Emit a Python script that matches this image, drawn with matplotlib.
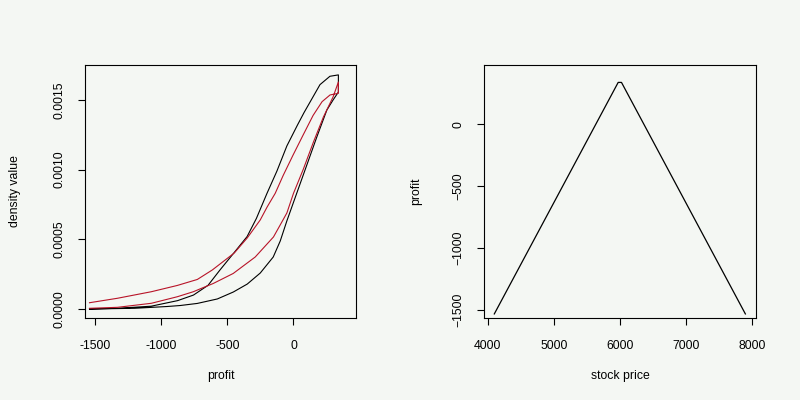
import matplotlib
matplotlib.use("Agg")
import matplotlib.pyplot as plt

plt.rcParams["font.family"] = ["Liberation Sans", "DejaVu Sans"]
plt.rcParams["font.size"] = 8.8

bg = "#f4f7f3"

# left panel: density of profit, two passes (black and red), each read as
# a rising branch (to the profit peak) then a falling branch back down
black_up_x = [-1540, -1330, -1075, -875, -755, -645, -555, -435, -350, -280,
              -200, -125, -50, 30, 80, 140, 200, 275, 339]
black_up_y = [0.0, 0.000005, 0.00002, 0.00006, 0.0001, 0.00017, 0.00028,
              0.00042, 0.00052, 0.00065, 0.00083, 0.00099, 0.00117, 0.00132,
              0.00141, 0.00151, 0.00161, 0.00167, 0.00168]
black_down_x = [339, 299, 252, 176, 101, 28, -50, -100, -153, -251, -349,
                -454, -575, -726, -855, -952, -1201, -1540]
black_down_y = [0.001557, 0.0015, 0.001428, 0.001234, 0.001034, 0.00084,
                0.000632, 0.000488, 0.000373, 0.000258, 0.000179, 0.000122,
                0.000072, 0.00004, 0.000025, 0.000018, 0.000005, 0.0]

red_up_x = [-1540, -1329, -1073, -877, -726, -613, -447, -349, -251, -199,
            -138, -78, -3, 73, 148, 216, 276, 339]
red_up_y = [0.000045, 0.000077, 0.000124, 0.000169, 0.000212, 0.00028,
            0.000402, 0.00051, 0.000639, 0.000732, 0.00083, 0.000958,
            0.001105, 0.001249, 0.001389, 0.001488, 0.001536, 0.001548]
red_down_x = [339, 299, 226, 151, 75, 0, -50, -88, -151, -289, -455, -606,
              -688, -756, -877, -1073, -1329, -1540]
red_down_y = [0.001629, 0.001522, 0.001378, 0.001199, 0.001005, 0.00083,
              0.000689, 0.000624, 0.000517, 0.000373, 0.000255, 0.000183,
              0.000151, 0.000124, 0.000088, 0.000041, 0.000012, 0.000005]

# right panel: payoff against stock price
price = [4100, 5975, 6025, 7900]
profit = [-1535, 340, 340, -1535]

fig = plt.figure(figsize=(8, 4), dpi=100, facecolor=bg)
ax1 = fig.add_axes([85 / 800, 82 / 400, 271 / 800, 253 / 400], facecolor=bg)
ax2 = fig.add_axes([484 / 800, 82 / 400, 272 / 800, 253 / 400], facecolor=bg)

ax1.plot(black_up_x + black_down_x, black_up_y + black_down_y, color="black", lw=0.8)
ax1.plot(red_up_x + red_down_x, red_up_y + red_down_y, color="#b81428", lw=0.8)
ax1.set_xlim(-1574, 472)
ax1.set_ylim(-0.0000646, 0.001751)
ax1.set_xticks([-1500, -1000, -500, 0])
ax1.set_xticklabels(["-1500", "-1000", "-500", "0"])
ax1.set_yticks([0, 0.0005, 0.001, 0.0015])
ax1.set_yticklabels(["0.0000", "0.0005", "0.0010", "0.0015"])
ax1.set_xlabel("profit")
ax1.set_ylabel("density value")

ax2.plot(price, profit, color="black", lw=0.9)
ax2.set_xlim(3944, 8061)
ax2.set_ylim(-1568, 481)
ax2.set_xticks([4000, 5000, 6000, 7000, 8000])
ax2.set_yticks([-1500, -1000, -500, 0])
ax2.set_xlabel("stock price")
ax2.set_ylabel("profit")

for ax in (ax1, ax2):
    for s in ax.spines.values():
        s.set_linewidth(0.8)
    ax.tick_params(axis="both", direction="out", length=5, width=0.8, pad=9)
    ax.tick_params(axis="x", pad=10.5)
    ax.tick_params(axis="y", labelrotation=90)
    for t in ax.get_yticklabels():
        t.set_va("center")
    ax.xaxis.set_label_coords(0.5, -0.23)
    ax.xaxis.label.set_va("center")
    ax.yaxis.label.set_va("center")

ax1.yaxis.set_label_coords(-0.258, 0.5)
ax2.yaxis.set_label_coords(-0.25, 0.5)

fig.savefig("out.png", dpi=100, facecolor=bg)
